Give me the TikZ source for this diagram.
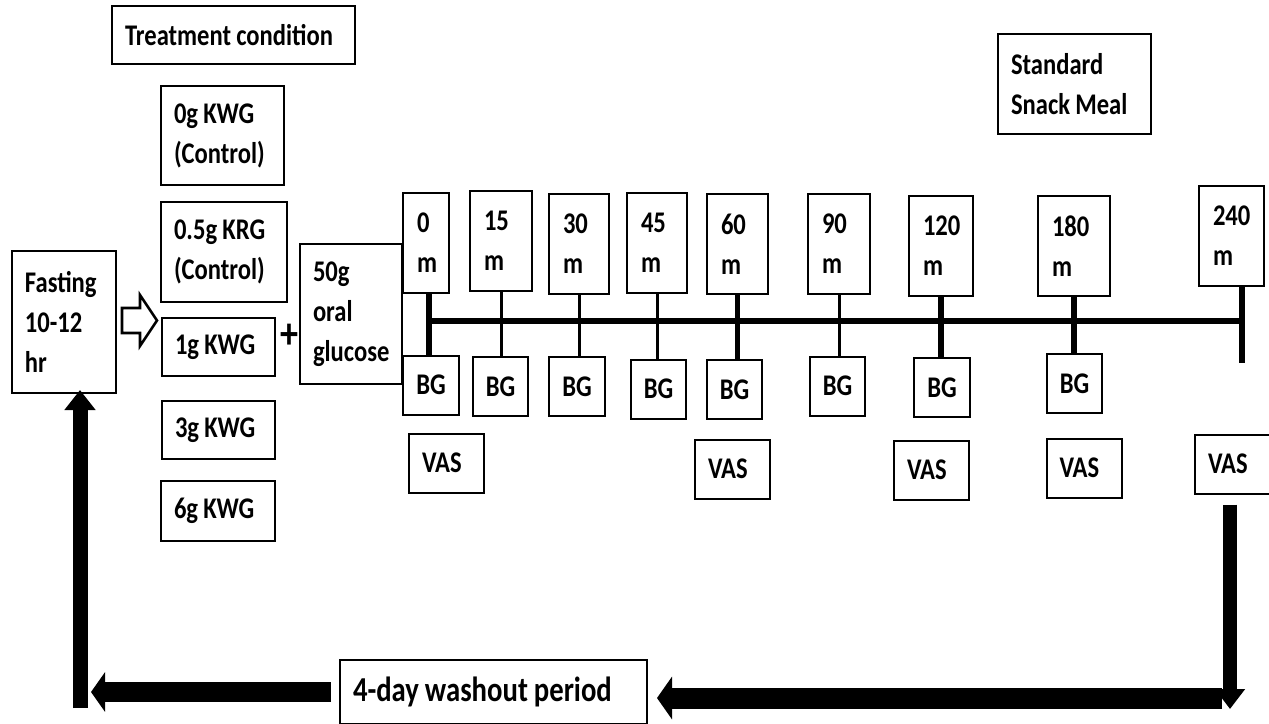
\documentclass[tikz,border=0pt]{standalone}
\usepackage{fontspec}
\setmainfont{Carlito}[FakeStretch=0.82]
\usetikzlibrary{arrows.meta}

\begin{document}
\begin{tikzpicture}[x=0.5pt,y=0.5pt,
  caja/.style={draw, line width=1pt, align=left, inner xsep=6.5pt, inner ysep=0pt,
    font=\bfseries\fontsize{15}{20}\selectfont,
    execute at begin node={\spaceskip 2.6pt\relax}},
  tiempo/.style={caja, inner xsep=7pt, minimum height=50pt},
  bg/.style={draw, line width=1pt, inner sep=0pt, minimum width=27.75pt,
    minimum height=29.5pt, font=\bfseries\fontsize{15}{20}\selectfont},
  vas/.style={caja, text width=24.5pt, minimum height=29.5pt},
  marca/.style={line width=2.75pt},
  marcafina/.style={line width=1.5pt}]
\fill[white] (0,0) rectangle (1269,-723);
\useasboundingbox (0,0) rectangle (1269,-723);

% Tratamientos
\node[caja, text width=108.5pt, minimum height=29pt] (cond) at (233.5,-35) {Treatment condition};
\node[caja, text width=48.5pt, minimum height=49.5pt] (kwg0) at (222.5,-135.5) {0g KWG\\(Control)};
\node[caja, text width=50pt, minimum height=50pt] (krg) at (224,-252) {0.5g KRG\\(Control)};
\node[caja, text width=43.5pt, minimum height=29pt] (kwg1) at (218.5,-347) {1g KWG};
\node[caja, text width=43.5pt, minimum height=29pt] (kwg3) at (218.5,-430) {3g KWG};
\node[caja, text width=44pt, minimum height=30pt] (kwg6) at (218,-511) {6g KWG};

% Ayuno y glucosa
\node[caja, text width=39pt, minimum height=71pt] (ayuno) at (64,-322) {Fasting\\10-12\\hr};
\node[caja, text width=38pt, minimum height=70pt] (gluc) at (351,-314) {50g\\oral\\glucose};
\node[font=\bfseries\fontsize{22}{24}\selectfont, inner sep=0pt] (mas) at (289.5,-336) {+};
\draw[line width=1.3pt] (122,-308) -- (140,-308) -- (140,-295) -- (157,-320.5)
  -- (140,-346) -- (140,-333) -- (122,-333) -- cycle;

\node[caja, text width=63.5pt, minimum height=50pt] (snack) at (1074.5,-84) {Standard\\Snack Meal};

% Tiempos
\node[tiempo, text width=9pt] (t0) at (426,-243) {0\\m};
\node[tiempo, text width=17pt] (t15) at (501,-241) {15\\m};
\node[tiempo, text width=16pt] (t30) at (579,-244) {30\\m};
\node[tiempo, text width=16pt] (t45) at (657,-243) {45\\m};
\node[tiempo, text width=16.5pt] (t60) at (737.5,-244) {60\\m};
\node[tiempo, text width=17pt] (t90) at (839,-244) {90\\m};
\node[tiempo, text width=18pt] (t120) at (941,-246) {120\\m};
\node[tiempo, text width=22pt] (t180) at (1074,-246) {180\\m};
\node[tiempo, text width=18.5pt] (t240) at (1231.5,-236) {240\\m};

% Glucosa en sangre
\node[bg] (bg0) at (431,-385) {BG};
\node[bg] (bg15) at (500.5,-386.5) {BG};
\node[bg] (bg30) at (577,-386.5) {BG};
\node[bg] (bg45) at (658.5,-389) {BG};
\node[bg] (bg60) at (734.5,-389.5) {BG};
\node[bg] (bg90) at (837.5,-386) {BG};
\node[bg] (bg120) at (942,-387.5) {BG};
\node[bg] (bg180) at (1074.5,-383.5) {BG};

% VAS
\node[vas] (vas0) at (446.5,-463) {VAS};
\node[vas] (vas60) at (732.5,-469) {VAS};
\node[vas] (vas120) at (931.5,-470) {VAS};
\node[vas] (vas180) at (1084,-468) {VAS};
\node[vas, text width=25.5pt] (vas240) at (1233.5,-464) {VAS};

% Linea de tiempo
\coordinate (ini) at (429,-321);
\coordinate (fin) at (1242,-321);
\draw[marca] (ini) -- (fin);
\draw[marca] (t0.south -| ini) -- (bg0.north -| ini);
\draw[marcafina] (t15.south) -- (t15.south |- bg15.north);
\draw[marcafina] (t30.south) -- (t30.south |- bg30.north);
\draw[marcafina] (t45.south) -- (t45.south |- bg45.north);
\draw[marca] (t60.south) -- (t60.south |- bg60.north);
\draw[marcafina] (t90.south) -- (t90.south |- bg90.north);
\draw[marca] (t120.south) -- (t120.south |- bg120.north);
\draw[marca] (t180.south) -- (t180.south |- bg180.north);
\draw[marca] (t240.south -| fin) -- ++(0,-76);

% Periodo de lavado
\node[caja, text width=140.5pt, minimum height=32pt,
  font=\bfseries\fontsize{17.5}{20}\selectfont,
  execute at begin node={\spaceskip 3pt\relax}] (lavado) at (493.5,-692) {4-day washout period};

% Flechas de retorno
\coordinate (esq) at (1230,-709);
\coordinate (esq2) at (1222,-698);
\coordinate (izq) at (91,-692);
\coordinate (base) at (80,-708);
\draw[line width=7pt, -{Triangle[length=10pt, width=14.5pt]}, shorten <=5pt] (vas240.south -| esq) -- (esq);
\draw[line width=10.5pt, -{Triangle[length=7.5pt, width=21pt]}, shorten >=4.5pt] (esq2) -- (esq2 -| lavado.east);
\draw[line width=10pt, -{Triangle[length=7pt, width=19.5pt]}, shorten <=4pt] (lavado.west) -- (izq);
\draw[line width=7.5pt, -{Triangle[length=10pt, width=15pt]}, shorten >=-2pt] (base) -- (base |- ayuno.south);
\end{tikzpicture}
\end{document}
